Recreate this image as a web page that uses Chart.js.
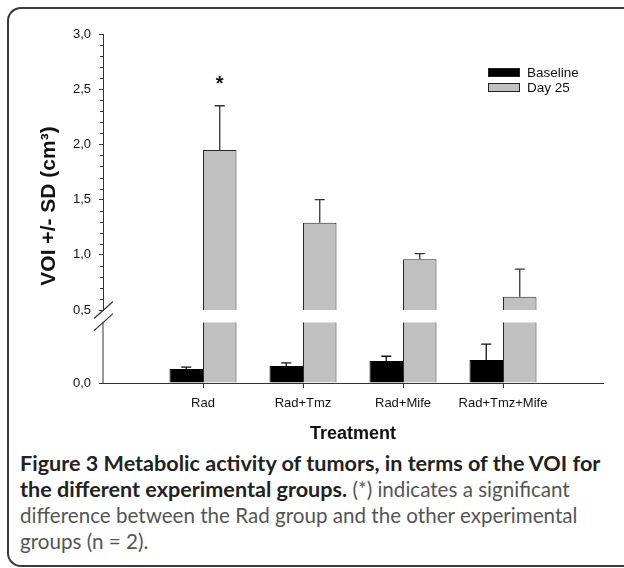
<!DOCTYPE html>
<html><head><meta charset="utf-8">
<script src="https://cdn.jsdelivr.net/npm/chart.js@4/dist/chart.umd.min.js"></script>
<style>
html,body{margin:0;padding:0;background:#fff;width:624px;height:568px;overflow:hidden;position:relative;}
#frame{position:absolute;left:7px;top:7px;width:680px;height:560px;border:2px solid #3a3a3a;border-right:none;border-radius:14px 0 0 14px;box-sizing:border-box;}
#wrap{position:absolute;left:0;top:0;width:624px;height:450px;}
#legend{position:absolute;left:488px;top:65px;font:13.5px "Liberation Sans",Arial,sans-serif;color:#111;}
.li{display:flex;align-items:center;height:15px;line-height:15px;white-space:nowrap;}
.sw{width:32px;height:9px;margin-right:7px;box-sizing:border-box;border:1px solid #222;}
#caption{position:absolute;left:20px;top:450px;width:610px;font-family:Lato,"Open Sans",sans-serif;font-size:20.6px;line-height:26px;color:#555;white-space:nowrap;}
#caption b{color:#222;font-weight:700;font-size:21.6px;}
</style></head>
<body>
<div id="frame"></div>
<div id="wrap"><canvas id="c" width="624" height="450"></canvas></div>
<div id="legend"></div>
<div id="caption"></div>
<script>
const categories = ['Rad', 'Rad+Tmz', 'Rad+Mife', 'Rad+Tmz+Mife'];
const seriesNames = ['Baseline', 'Day 25'];
const baseline = [0.115, 0.14, 0.18, 0.19];
const baselineSD = [0.015, 0.025, 0.04, 0.13];
const day25 = [1.95, 1.29, 0.96, 0.62];
const day25SD = [0.40, 0.21, 0.05, 0.25];
const significance = ['*', '', '', ''];
const yUpperTicks = [0.5, 1.0, 1.5, 2.0, 2.5, 3.0];
const yLowerTicks = [0.0];
const axisBreak = 0.5;
const xTitle = 'Treatment';
const yTitle = 'VOI +/- SD (cm\u00B3)';
const captionLines = [
  ['Figure 3 Metabolic activity of tumors, in terms of the VOI for', ''],
  ['the different experimental groups.', ' (*) indicates a significant'],
  ['', 'difference between the Rad group and the other experimental'],
  ['', 'groups (n\u00A0=\u00A02).']
];

const colors = ['#000000', '#c0c0c0'];
const FONT = '"Liberation Sans", Arial, sans-serif';

const labels = ['', ...categories, ''];
const pad = arr => [null, ...arr, null];

const fmt = v => Number(v).toFixed(1).replace('.', ',');

const extras = {
  id: 'extras',
  afterDatasetsDraw(chart) {
    const ctx = chart.ctx;
    const yL = chart.scales.yLow, yH = chart.scales.yHigh;
    const m0 = chart.getDatasetMeta(0), m2 = chart.getDatasetMeta(2), m1 = chart.getDatasetMeta(1);
    const drawErr = (x, y0, y1, col) => {
      ctx.strokeStyle = col; ctx.lineWidth = 1.3;
      ctx.beginPath();
      ctx.moveTo(x, y0); ctx.lineTo(x, y1);
      ctx.moveTo(x - 5, y1); ctx.lineTo(x + 5, y1);
      ctx.stroke();
    };
    ctx.save();
    for (let i = 0; i < categories.length; i++) {
      const e0 = m0.data[i + 1];
      drawErr(e0.x, yL.getPixelForValue(baseline[i]), yL.getPixelForValue(baseline[i] + baselineSD[i]), '#111');
      const e2 = (m2.data[i + 1] && day25[i] > axisBreak) ? m2.data[i + 1] : m1.data[i + 1];
      const sc = day25[i] > axisBreak ? yH : yL;
      const top = sc.getPixelForValue(day25[i] + day25SD[i]);
      drawErr(e2.x, sc.getPixelForValue(day25[i]), top, '#333');
      if (significance[i]) {
        ctx.fillStyle = '#111';
        ctx.font = 'bold 20px ' + FONT;
        ctx.textAlign = 'center'; ctx.textBaseline = 'middle';
        ctx.fillText(significance[i], e2.x, top - 21);
      }
    }
    ctx.restore();
  },
  afterDraw(chart) {
    const ctx = chart.ctx;
    const yL = chart.scales.yLow, yH = chart.scales.yHigh;
    const ax = chart.chartArea.left;
    ctx.save();
    ctx.strokeStyle = '#333'; ctx.lineWidth = 1;
    // minor ticks on upper segment
    ctx.beginPath();
    for (let k = Math.round(yH.min * 10) + 1; k < Math.round(yH.max * 10); k++) {
      if (k % 5 === 0) continue;
      const y = Math.round(yH.getPixelForValue(k / 10)) + 0.5;
      ctx.moveTo(ax - 3, y); ctx.lineTo(ax, y);
    }
    ctx.stroke();
    // lower axis line (with gap)
    const yTopLow = yL.getPixelForValue(axisBreak);
    ctx.beginPath();
    ctx.moveTo(ax, yTopLow); ctx.lineTo(ax, yL.getPixelForValue(0));
    ctx.stroke();
    // break marks
    const yb1 = yH.getPixelForValue(axisBreak), yb2 = yTopLow;
    ctx.lineWidth = 1.2;
    ctx.beginPath();
    ctx.moveTo(ax - 9, yb1 + 8.5); ctx.lineTo(ax + 10, yb1 - 8.5);
    ctx.moveTo(ax - 9, yb2 + 8.5); ctx.lineTo(ax + 10, yb2 - 8.5);
    ctx.stroke();
    // y title
    ctx.fillStyle = '#111';
    ctx.font = 'bold 21px ' + FONT;
    ctx.textAlign = 'center'; ctx.textBaseline = 'middle';
    ctx.translate(49, 206);
    ctx.rotate(-Math.PI / 2);
    ctx.fillText(yTitle, 0, 0);
    ctx.restore();
  }
};

new Chart(document.getElementById('c'), {
  type: 'bar',
  data: {
    labels: labels,
    datasets: [
      { label: seriesNames[0], data: pad(baseline), yAxisID: 'yLow', stack: 's0',
        backgroundColor: colors[0], borderColor: '#000', borderWidth: 1 },
      { label: seriesNames[1] + ' (lower)', data: pad(day25.map(v => [0, Math.min(v, axisBreak)])), yAxisID: 'yLow', stack: 's1',
        backgroundColor: colors[1], borderColor: '#2a2a2a', borderWidth: {left: 1, right: 1, top: 0, bottom: 0}, borderSkipped: false },
      { label: seriesNames[1], data: pad(day25.map(v => v > axisBreak ? [axisBreak, v] : null)), yAxisID: 'yHigh', stack: 's1',
        backgroundColor: colors[1], borderColor: '#2a2a2a', borderWidth: {left: 1, right: 1, top: 1, bottom: 0}, borderSkipped: false }
    ]
  },
  options: {
    responsive: false,
    animation: false,
    events: [],
    categoryPercentage: 0.67,
    barPercentage: 1.0,
    layout: { padding: { left: 0, top: 34, right: 21, bottom: 5 } },
    plugins: { legend: { display: false }, tooltip: { enabled: false }, title: { display: false } },
    scales: {
      x: {
        type: 'category', offset: false,
        grid: { drawOnChartArea: false, offset: false, tickLength: 5,
          color: c => (c.index === 0 || c.index === labels.length - 1) ? 'rgba(0,0,0,0)' : '#333' },
        border: { color: '#333', width: 1 },
        ticks: { font: { family: FONT, size: 13 }, color: '#111', padding: 8, maxRotation: 0, autoSkip: false },
        title: { display: true, text: xTitle, font: { family: FONT, size: 18, weight: 'bold' }, color: '#111', padding: 0 },
        afterFit: s => { s.height = 62; }
      },
      yLow: {
        type: 'linear', position: 'left', stack: 'y', stackWeight: 73, stacked: false,
        min: 0, max: 0.6,
        afterBuildTicks: s => { s.ticks = yLowerTicks.map(v => ({ value: v })); },
        ticks: { callback: v => fmt(v), font: { family: FONT, size: 13 }, color: '#111', padding: 8 },
        grid: { drawOnChartArea: false, tickLength: 4, color: '#333' },
        border: { display: false },
        afterFit: s => { s.width = 103; }
      },
      yHigh: {
        type: 'linear', position: 'left', stack: 'y', stackWeight: 276, stacked: false,
        min: axisBreak, max: 3.0,
        afterBuildTicks: s => { s.ticks = yUpperTicks.map(v => ({ value: v })); },
        ticks: { callback: v => fmt(v), font: { family: FONT, size: 13 }, color: '#111', padding: 8 },
        grid: { drawOnChartArea: false, tickLength: 4, color: '#333' },
        border: { color: '#333', width: 1 },
        afterFit: s => { s.width = 103; }
      }
    }
  },
  plugins: [extras]
});

// legend
const lg = document.getElementById('legend');
seriesNames.forEach((n, i) => {
  const row = document.createElement('div'); row.className = 'li';
  const sw = document.createElement('span'); sw.className = 'sw'; sw.style.background = colors[i];
  const t = document.createElement('span'); t.textContent = n;
  row.appendChild(sw); row.appendChild(t); lg.appendChild(row);
});
// caption
const cap = document.getElementById('caption');
captionLines.forEach(([b, r]) => {
  const d = document.createElement('div');
  if (b) { const e = document.createElement('b'); e.textContent = b; d.appendChild(e); }
  if (r) d.appendChild(document.createTextNode(r));
  cap.appendChild(d);
});
</script>
</body></html>
